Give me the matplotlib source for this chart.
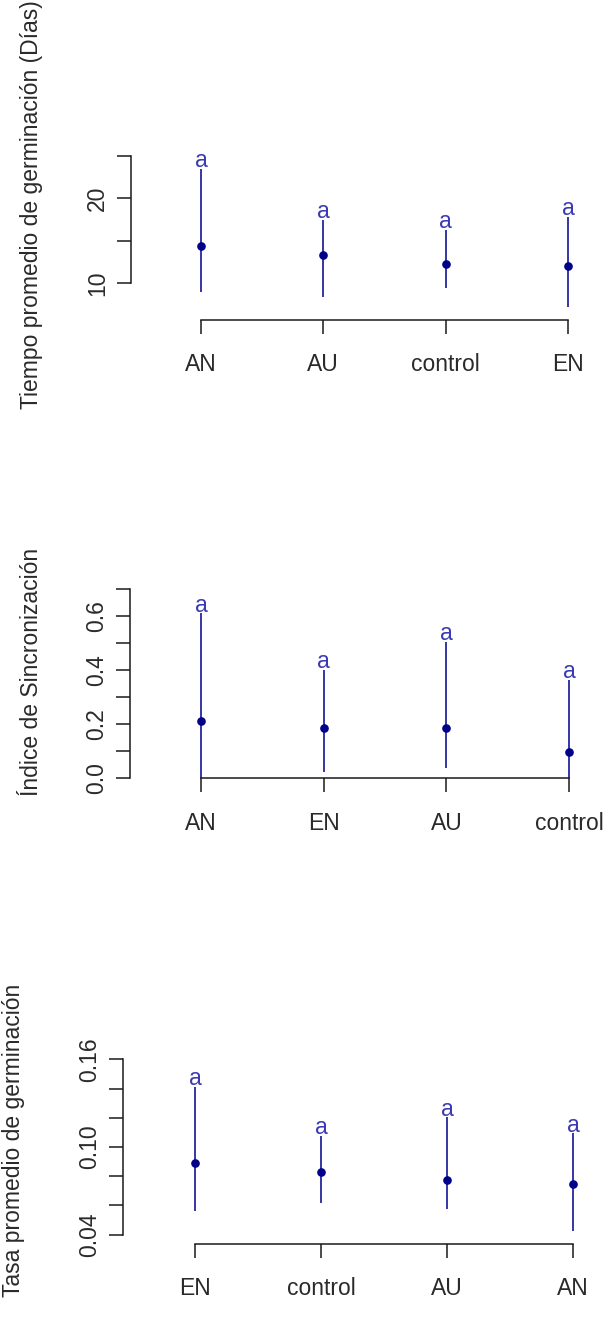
import matplotlib
matplotlib.use("Agg")
import matplotlib.pyplot as plt
import numpy as np

plt.rcParams['font.family'] = ['Liberation Sans', 'DejaVu Sans']

# --- tiempo promedio de germinacion (dias) ---
tmg_cats = ['AN', 'AU', 'control', 'EN']
tmg_mean = [14.4, 13.3, 12.3, 12.0]
tmg_upper = [23.5, 17.5, 16.3, 17.8]
tmg_lower = [9.0, 8.4, 9.4, 7.2]
tmg_letters = ['a', 'a', 'a', 'a']

# --- indice de sincronizacion ---
sinc_cats = ['AN', 'EN', 'AU', 'control']
sinc_mean = [0.212, 0.185, 0.185, 0.095]
sinc_upper = [0.611, 0.400, 0.505, 0.363]
sinc_lower = [0.0, 0.020, 0.035, 0.0]
sinc_letters = ['a', 'a', 'a', 'a']

# --- tasa promedio de germinacion ---
tasa_cats = ['EN', 'control', 'AU', 'AN']
tasa_mean = [0.0893, 0.0831, 0.0776, 0.0747]
tasa_upper = [0.1413, 0.1075, 0.1203, 0.1094]
tasa_lower = [0.0562, 0.0615, 0.0574, 0.0427]
tasa_letters = ['a', 'a', 'a', 'a']

W, H = 606, 1317
DPI = 100
FS = 16.5
LINE_C = '#00008B'
LETTER_C = '#3a3ab4'
AX_C = '#1a1a1a'
TXT_C = '#2a2a2a'

fig = plt.figure(figsize=(W / DPI, H / DPI), dpi=DPI)


def px_axes(left, bottom, right, top):
    # axes box given in pixel units (top-left origin)
    return fig.add_axes([left / W, 1 - bottom / H, (right - left) / W, (bottom - top) / H])


def panel(box, xlim, ylim, cats, mean, upper, lower, letters,
          yticks, ylabels, ybounds, ylab, ylab_x, ylab_y, xpad):
    ax = px_axes(*box)
    x = np.arange(len(cats))
    ax.vlines(x, lower, upper, color=LINE_C, lw=1.1, clip_on=False, zorder=2)
    ax.plot(x, mean, 'o', color=LINE_C, ms=5.2, clip_on=False, zorder=3)
    for xi, up, lt in zip(x, upper, letters):
        ax.annotate(lt, (xi, up), xytext=(0, 1.2), textcoords='offset points',
                    ha='center', va='baseline', color=LETTER_C, fontsize=FS,
                    annotation_clip=False)
    ax.set_xlim(*xlim)
    ax.set_ylim(*ylim)
    ax.set_xticks(x)
    ax.set_xticklabels(cats)
    ax.set_yticks(yticks)
    ax.set_yticklabels(ylabels, rotation=90, va='center')
    for s in ['top', 'right']:
        ax.spines[s].set_visible(False)
    ax.spines['left'].set_bounds(*ybounds)
    ax.spines['bottom'].set_bounds(0, len(cats) - 1)
    for s in ['left', 'bottom']:
        ax.spines[s].set_color(AX_C)
        ax.spines[s].set_linewidth(1.1)
    ax.tick_params(axis='both', direction='out', length=10, width=1.1,
                   color=AX_C, labelsize=FS, labelcolor=TXT_C)
    ax.tick_params(axis='x', pad=xpad)
    ax.tick_params(axis='y', pad=6)
    ax.patch.set_alpha(0)
    fig.text(ylab_x / W, 1 - ylab_y / H, ylab, rotation=90, ha='center',
             va='center', fontsize=FS, color=TXT_C)
    return ax


panel((131, 320, 600, 140), (-0.572, 3.262), (5.68, 26.86),
      tmg_cats, tmg_mean, tmg_upper, tmg_lower, tmg_letters,
      [10, 15, 20, 25], ['10', '', '20', ''], (10, 25),
      'Tiempo promedio de germinación (Días)', 32, 205, 13.5)

panel((130, 777.7, 600, 580), (-0.58, 3.253), (0, 0.7347),
      sinc_cats, sinc_mean, sinc_upper, sinc_lower, sinc_letters,
      np.arange(0, 0.71, 0.1), ['0.0', '', '0.2', '', '0.4', '', '0.6', ''], (0, 0.7),
      'Índice de Sincronización', 32, 672, 15)

panel((123, 1244, 600, 1045), (-0.571, 3.214), (0.03364, 0.16978),
      tasa_cats, tasa_mean, tasa_upper, tasa_lower, tasa_letters,
      np.arange(0.04, 0.161, 0.02), ['0.04', '', '', '0.10', '', '', '0.16'], (0.04, 0.16),
      'Tasa promedio de germinación', 14, 1140, 13.5)

fig.savefig('out.png', dpi=DPI)
